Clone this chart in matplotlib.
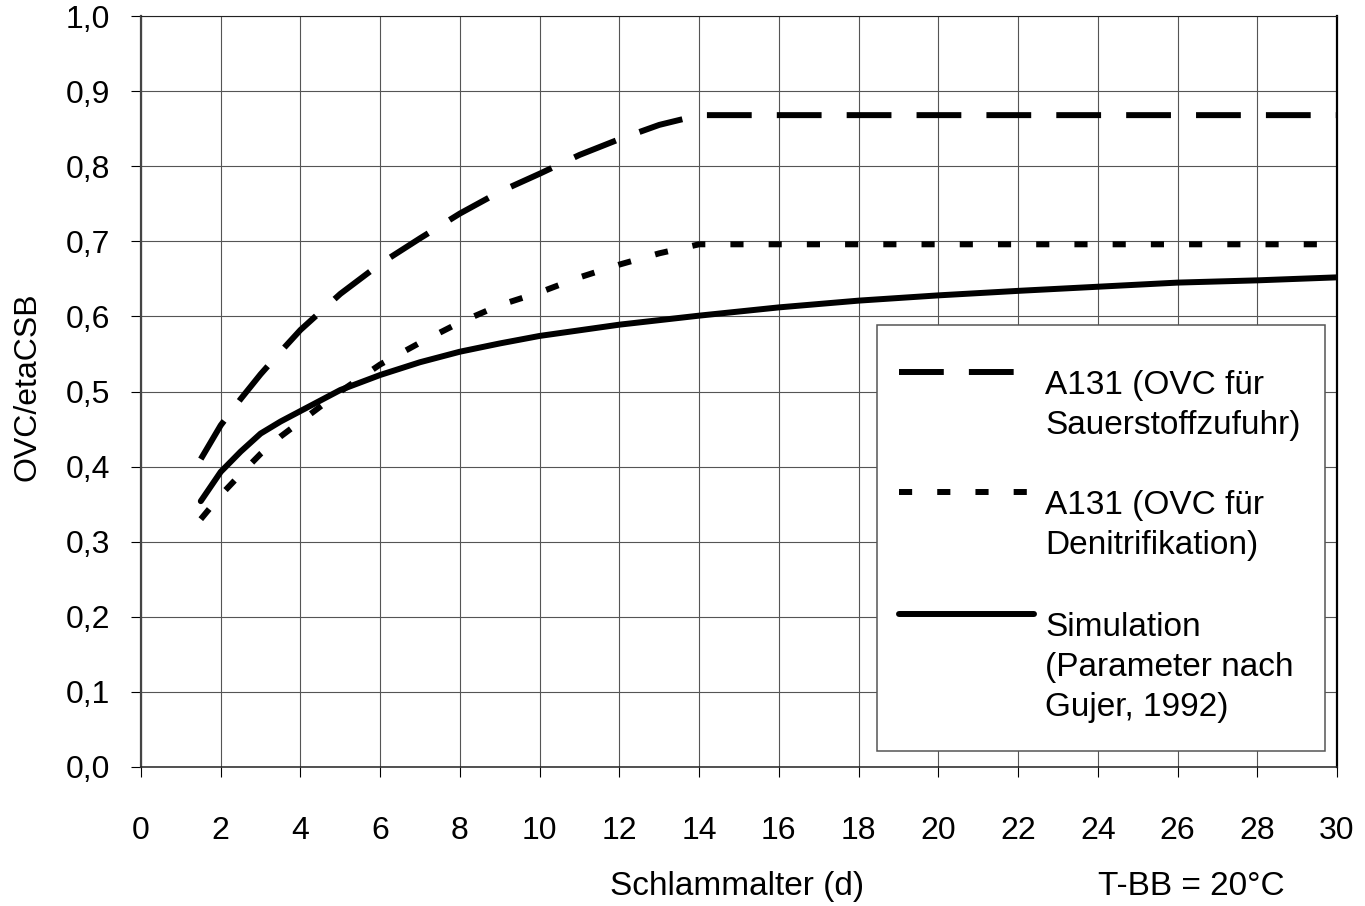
import matplotlib
matplotlib.use('Agg')
import matplotlib.pyplot as plt
from matplotlib.patches import Rectangle

plt.rcParams['font.family'] = ['Liberation Sans', 'DejaVu Sans']

# A131 (OVC fuer Sauerstoffzufuhr)
x_o2 = [1.5, 2, 2.5, 3, 3.5, 4, 5, 6, 7, 8, 9, 10, 11, 12, 13, 14, 30]
y_o2 = [0.41, 0.455, 0.49, 0.523, 0.553, 0.582, 0.63, 0.67, 0.704, 0.737, 0.766,
        0.79, 0.815, 0.836, 0.855, 0.868, 0.868]
# A131 (OVC fuer Denitrifikation)
x_dn = [1.5, 2, 2.5, 3, 3.5, 4, 5, 6, 7, 8, 9, 10, 11, 12, 13, 14, 30]
y_dn = [0.33, 0.362, 0.39, 0.417, 0.44, 0.46, 0.50, 0.536, 0.565, 0.592, 0.615,
        0.632, 0.652, 0.669, 0.684, 0.696, 0.696]
# Simulation (Gujer 1992)
x_sim = [1.5, 2, 2.5, 3, 3.5, 4, 5, 6, 7, 8, 9, 10, 12, 14, 16, 18, 20, 22, 24, 26, 28, 30]
y_sim = [0.354, 0.393, 0.42, 0.444, 0.46, 0.474, 0.502, 0.522, 0.539, 0.553, 0.564,
         0.574, 0.589, 0.601, 0.612, 0.621, 0.628, 0.634, 0.6395, 0.645, 0.648, 0.652]

xticks = list(range(0, 31, 2))
yticks = [i / 10 for i in range(11)]
ytick_labels = ['0,0', '0,1', '0,2', '0,3', '0,4', '0,5', '0,6', '0,7', '0,8', '0,9', '1,0']

labels = ['A131 (OVC für\nSauerstoffzufuhr)',
          'A131 (OVC für\nDenitrifikation)',
          'Simulation\n(Parameter nach\nGujer, 1992)']

lw = 4.3
styles = [(0, (7.5, 4.2)), (0, (2.2, 4.2)), '-']

fig = plt.figure(figsize=(13.65, 9.06), dpi=100)
ax = fig.add_axes([141 / 1365, 1 - 767 / 906, 1196 / 1365, 751 / 906])

series = [(x_o2, y_o2), (x_dn, y_dn), (x_sim, y_sim)]
for (xs, ys), ls in zip(series, styles):
    ax.plot(xs, ys, color='k', lw=lw, ls=ls, dash_capstyle='butt',
            solid_capstyle='round', zorder=3)

ax.set_xlim(0, 30)
ax.set_ylim(0, 1.0)
ax.set_xticks(xticks)
ax.set_xticklabels([str(t) for t in xticks])
ax.set_yticks(yticks)
ax.set_yticklabels(ytick_labels)
ax.tick_params(axis='x', direction='out', length=7, width=0.8, pad=28, labelsize=23)
ax.tick_params(axis='y', direction='out', length=7, width=0.8, pad=15, labelsize=23)
ax.grid(True, color='#555555', lw=0.8)
ax.set_axisbelow(True)

ax.spines['left'].set_color('#444444')
ax.spines['left'].set_linewidth(1.6)
ax.spines['bottom'].set_color('#222222')
ax.spines['bottom'].set_linewidth(1.1)
ax.spines['right'].set_color('k')
ax.spines['right'].set_linewidth(1.6)
ax.spines['top'].set_color('#222222')
ax.spines['top'].set_linewidth(0.8)

# legend box, drawn by hand so the handles sit at the top of each label
ax.add_patch(Rectangle((0.6154, 0.0213), 0.3746, 0.5672, transform=ax.transAxes,
                       facecolor='white', edgecolor='#555555', lw=1.1, zorder=4))
handle_y = [0.526, 0.366, 0.204]
handle_x1 = [0.731, 0.742, 0.747]
for hy, hx1, ls, lab in zip(handle_y, handle_x1, styles, labels):
    ax.plot([0.634, hx1], [hy, hy], transform=ax.transAxes, color='k', lw=lw, ls=ls,
            dash_capstyle='butt', solid_capstyle='round', zorder=5, clip_on=False)
    ax.text(0.756, hy + 0.003, lab, transform=ax.transAxes, fontsize=24,
            va='top', ha='left', linespacing=1.38, zorder=5)

fig.text(28 / 1365, 0.573, 'OVC/etaCSB', rotation=90,
         fontsize=23, ha='center', va='center')
fig.text(737 / 1365, 0.022, 'Schlammalter (d)', fontsize=24, ha='center', va='center')
fig.text(1191 / 1365, 0.022, 'T-BB = 20°C', fontsize=24, ha='center', va='center')

fig.savefig('out.png', dpi=100, facecolor='white')
